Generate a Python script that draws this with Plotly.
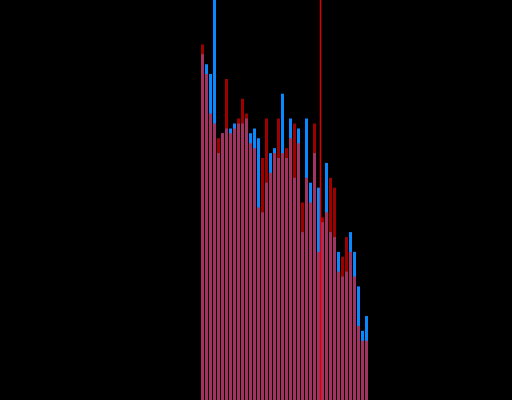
import plotly.graph_objects as go

bins = list(range(42))
blue_counts = [70, 68, 66, 81, 50, 54, 55, 55, 56, 56, 56, 57, 54, 55, 53, 38, 44, 50, 51, 49,
               62, 49, 57, 45, 55, 34, 57, 44, 50, 43, 36, 48, 34, 33, 30, 25, 26, 34, 30, 23,
               14, 17]
red_counts = [72, 66, 58, 56, 53, 54, 65, 54, 55, 57, 61, 58, 52, 51, 39, 49, 57, 46, 50, 57,
              50, 51, 53, 56, 52, 40, 45, 40, 56, 30, 37, 38, 45, 43, 26, 29, 33, 30, 25, 15,
              12, 12]
marker_x = 29.5

fig = go.Figure()
fig.add_trace(go.Bar(x=bins, y=blue_counts, marker=dict(color="#0a88ff", line=dict(width=0)),
                     showlegend=False))
fig.add_trace(go.Bar(x=bins, y=red_counts, marker=dict(color="#ff0000", line=dict(width=0)),
                     opacity=0.62, showlegend=False))
fig.add_shape(type="line", x0=marker_x, x1=marker_x, y0=0, y1=1, yref="paper",
              line=dict(color="#e00000", width=1.5))
fig.update_layout(
    width=512, height=400,
    margin=dict(l=0, r=0, t=0, b=0),
    paper_bgcolor="black", plot_bgcolor="black",
    barmode="overlay", bargap=0.25,
    xaxis=dict(range=[-50.625, 77.375], visible=False, showgrid=False, zeroline=False),
    yaxis=dict(range=[0, 81], visible=False, showgrid=False, zeroline=False),
)
fig.write_html(
    "out.html",
    config={"displayModeBar": False},
    post_script="document.body.style.margin='0';document.body.style.background='black';"
                "document.body.style.overflow='hidden';",
)
